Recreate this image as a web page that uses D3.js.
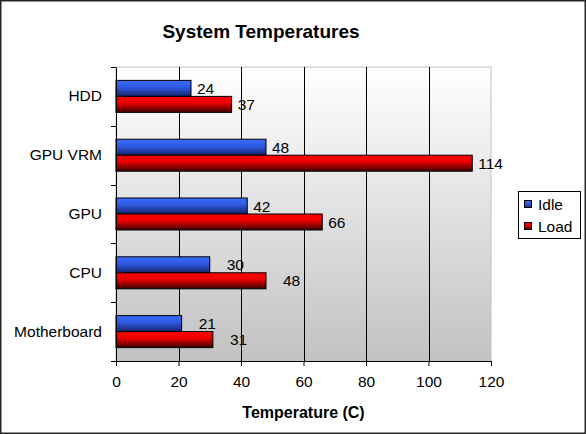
<!DOCTYPE html>
<html>
<head>
<meta charset="utf-8">
<script src="https://cdn.jsdelivr.net/npm/d3@7/dist/d3.min.js"></script>
<style>
  html, body { margin: 0; padding: 0; background: #fff; }
  text { font-family: "Liberation Sans", Arial, sans-serif; fill: #000; }
</style>
</head>
<body>
<div id="chart"></div>
<script>
// data, top to bottom
var categories = ["HDD", "GPU VRM", "GPU", "CPU", "Motherboard"];
var idle = [24, 48, 42, 30, 21];
var load = [37, 114, 66, 48, 31];
var seriesNames = ["Idle", "Load"];
var xTicks = [0, 20, 40, 60, 80, 100, 120];

// label nudges (px) as placed in the original
var labelGap = [6, 6, 6, 17, 17];

var W = 586, H = 434;
var plot = { left: 116, right: 491, top: 67, bottom: 361 };
var barH = 16;
var fs = "15.5px";

var svg = d3.select("#chart").append("svg")
    .attr("width", W)
    .attr("height", H);

var defs = svg.append("defs");

var bg = defs.append("linearGradient").attr("id", "bg")
    .attr("x1", 0).attr("y1", 0).attr("x2", 0).attr("y2", 1);
bg.append("stop").attr("offset", "0%").attr("stop-color", "#ffffff");
bg.append("stop").attr("offset", "100%").attr("stop-color", "#c2c2c2");

var gBlue = defs.append("linearGradient").attr("id", "gIdle")
    .attr("x1", 0).attr("y1", 0).attr("x2", 0).attr("y2", 1);
gBlue.append("stop").attr("offset", "0%").attr("stop-color", "#3a6cff");
gBlue.append("stop").attr("offset", "45%").attr("stop-color", "#2e58e0");
gBlue.append("stop").attr("offset", "100%").attr("stop-color", "#16246a");

var gRed = defs.append("linearGradient").attr("id", "gLoad")
    .attr("x1", 0).attr("y1", 0).attr("x2", 0).attr("y2", 1);
gRed.append("stop").attr("offset", "0%").attr("stop-color", "#ff0000");
gRed.append("stop").attr("offset", "40%").attr("stop-color", "#f00000");
gRed.append("stop").attr("offset", "100%").attr("stop-color", "#3a0000");

var fills = ["url(#gIdle)", "url(#gLoad)"];

// outer frame
svg.append("rect")
    .attr("x", 0.75).attr("y", 0.75)
    .attr("width", W - 1.5).attr("height", H - 1.5)
    .attr("fill", "#fff")
    .attr("stroke", "#262626")
    .attr("stroke-width", 1.5);

// title
svg.append("text")
    .attr("x", 261).attr("y", 38)
    .attr("text-anchor", "middle")
    .style("font-size", "19px")
    .style("font-weight", "bold")
    .text("System Temperatures");

var x = d3.scaleLinear().domain([0, 120]).range([plot.left, plot.right]);
var y = d3.scaleBand().domain(categories).range([plot.top, plot.bottom]);

// plot area
svg.append("rect")
    .attr("x", plot.left).attr("y", plot.top)
    .attr("width", plot.right - plot.left)
    .attr("height", plot.bottom - plot.top)
    .attr("fill", "url(#bg)")
    .attr("stroke", "#c0c0c0")
    .attr("stroke-width", 1);

// gridlines
svg.append("g").selectAll("line")
    .data(xTicks.slice(1, -1))
    .join("line")
    .attr("x1", function (d) { return Math.round(x(d)) + 0.5; })
    .attr("x2", function (d) { return Math.round(x(d)) + 0.5; })
    .attr("y1", plot.top)
    .attr("y2", plot.bottom)
    .attr("stroke", "#000")
    .attr("stroke-width", 1);

// bars
var rows = categories.map(function (c, i) {
    return { cat: c, vals: [idle[i], load[i]], gap: labelGap[i] };
});

var row = svg.append("g").selectAll("g")
    .data(rows)
    .join("g")
    .attr("transform", function (d) {
        return "translate(0," + (y(d.cat) + y.bandwidth() / 2) + ")";
    });

row.selectAll("rect")
    .data(function (d) { return d.vals; })
    .join("rect")
    .attr("x", x(0))
    .attr("y", function (d, j) { return j === 0 ? -barH : 0; })
    .attr("width", function (d) { return x(d) - x(0); })
    .attr("height", barH)
    .attr("fill", function (d, j) { return fills[j]; })
    .attr("stroke", "#000")
    .attr("stroke-width", 1);

row.selectAll("text")
    .data(function (d) { return d.vals.map(function (v) { return { v: v, gap: d.gap }; }); })
    .join("text")
    .attr("x", function (d) { return x(d.v) + d.gap; })
    .attr("y", function (d, j) { return j === 0 ? -barH / 2 : barH / 2; })
    .attr("dy", "0.36em")
    .style("font-size", fs)
    .text(function (d) { return d.v; });

// x axis
var xAxis = svg.append("g")
    .attr("transform", "translate(0," + plot.bottom + ")")
    .call(d3.axisBottom(x).tickValues(xTicks).tickSize(5).tickSizeOuter(0));
xAxis.select(".domain").attr("stroke", "#000");
xAxis.selectAll("text")
    .style("font-size", fs)
    .style("font-family", "Liberation Sans, Arial, sans-serif")
    .attr("y", 0)
    .attr("dy", "1.7em");

// y axis
var yAxis = svg.append("g")
    .attr("transform", "translate(" + plot.left + ",0)")
    .call(d3.axisLeft(y).tickSize(0).tickPadding(14));
yAxis.select(".domain").attr("stroke", "#000");
yAxis.selectAll("text")
    .style("font-size", fs)
    .style("font-family", "Liberation Sans, Arial, sans-serif");

// category separator ticks
svg.append("g").selectAll("line")
    .data(categories.concat(["end"]))
    .join("line")
    .attr("x1", plot.left - 5)
    .attr("x2", plot.left)
    .attr("y1", function (d, i) { return Math.round(plot.top + i * y.step()) + 0.5; })
    .attr("y2", function (d, i) { return Math.round(plot.top + i * y.step()) + 0.5; })
    .attr("stroke", "#000");

// axis title
svg.append("text")
    .attr("x", (plot.left + plot.right) / 2)
    .attr("y", 418)
    .attr("text-anchor", "middle")
    .style("font-size", "16px")
    .style("font-weight", "bold")
    .text("Temperature (C)");

// legend
var legend = svg.append("g").attr("transform", "translate(518,191)");
legend.append("rect")
    .attr("x", 0.5).attr("y", 0.5)
    .attr("width", 62).attr("height", 47)
    .attr("fill", "#fff")
    .attr("stroke", "#000");

var item = legend.selectAll("g.item")
    .data(seriesNames)
    .join("g")
    .attr("class", "item")
    .attr("transform", function (d, i) { return "translate(0," + (13 + i * 22) + ")"; });

item.append("rect")
    .attr("x", 6.5).attr("y", -3.5)
    .attr("width", 7).attr("height", 7)
    .attr("fill", function (d, i) { return fills[i]; })
    .attr("stroke", "#000");

item.append("text")
    .attr("x", 20)
    .attr("y", 0)
    .attr("dy", "0.36em")
    .style("font-size", fs)
    .text(function (d) { return d; });
</script>
</body>
</html>
